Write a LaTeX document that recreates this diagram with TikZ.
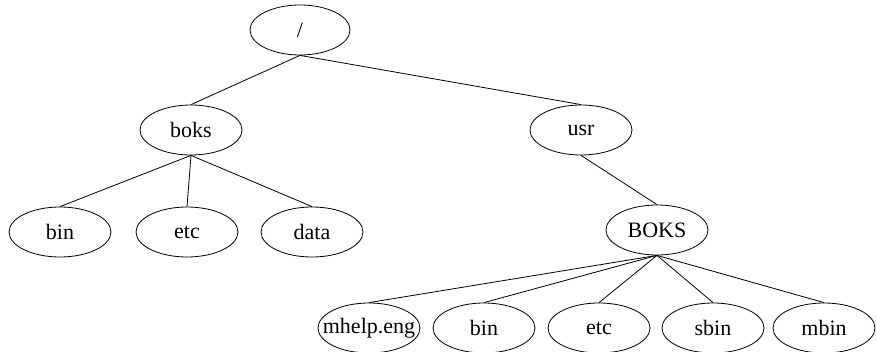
\documentclass[tikz,border=0pt]{standalone}
\usepackage{fontspec}
\setmainfont{Liberation Serif}
\usetikzlibrary{shapes.geometric}
\newcommand{\fixtext}[1]{\makebox[0pt][c]{#1}}
\begin{document}
\begin{tikzpicture}[x=1pt,y=-1pt,
  dirnode/.style={draw, ellipse, line width=0.8pt, minimum width=102pt, minimum height=50pt, inner sep=0pt, font=\fontsize{22}{24}\selectfont},
  link/.style={line width=0.8pt}]
\useasboundingbox (0,0) rectangle (877,352);
\node[dirnode, minimum width=100pt] (root) at (300,30) {\fixtext{/}};
\node[dirnode] (boks) at (191,130) {\fixtext{boks}};
\node[dirnode] (usr) at (581,130) {\fixtext{usr}};
\node[dirnode] (bin1) at (60,232) {\fixtext{bin}};
\node[dirnode] (etc1) at (187,232) {\fixtext{etc}};
\node[dirnode] (data) at (312,232) {\fixtext{data}};
\node[dirnode] (BOKS) at (657,230) {\fixtext{BOKS}};
\node[dirnode] (mhelp) at (369,328) {\fixtext{mhelp.eng}};
\node[dirnode] (bin2) at (484,328) {\fixtext{bin}};
\node[dirnode] (etc2) at (599,328) {\fixtext{etc}};
\node[dirnode] (sbin) at (713,328) {\fixtext{sbin}};
\node[dirnode] (mbin) at (824,328) {\fixtext{mbin}};
\draw[link] (root.south) -- (boks.north);
\draw[link] (root.south) -- (usr.north);
\draw[link] (boks.south) -- (bin1.north);
\draw[link] (boks.south) -- (etc1.north);
\draw[link] (boks.south) -- (data.north);
\draw[link] (usr.south) -- (BOKS.north);
\draw[link] (BOKS.south) -- (mhelp.north);
\draw[link] (BOKS.south) -- (bin2.north);
\draw[link] (BOKS.south) -- (etc2.north);
\draw[link] (BOKS.south) -- (sbin.north);
\draw[link] (BOKS.south) -- (mbin.north);
\end{tikzpicture}
\end{document}
